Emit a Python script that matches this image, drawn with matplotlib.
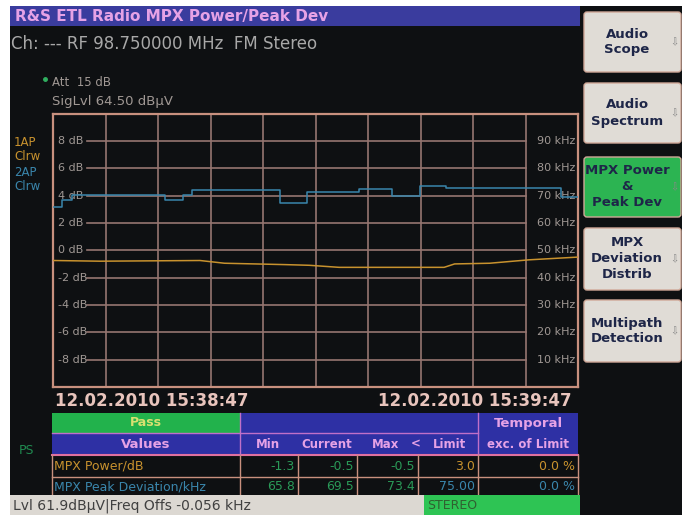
import matplotlib
matplotlib.use("Agg")
import matplotlib.pyplot as plt
from matplotlib.patches import Rectangle, FancyBboxPatch

plt.rcParams['font.family'] = ['DejaVu Sans']

power_t = [0, 5.4, 16.8, 19.6, 26.5, 29.3, 32.7, 44.7, 45.9, 49.9, 54.4, 60]
power_db = [-0.75, -0.8, -0.75, -0.95, -1.05, -1.1, -1.25, -1.25, -1.0, -0.95, -0.7, -0.5]

dev_t = [0, 1.0, 2.2, 12.8, 14.8, 15.9, 25.9, 29.0, 35.0, 38.7, 41.9, 44.9, 58.1, 60]
dev_khz = [65.8, 68.2, 70.2, 68.3, 70.2, 72.0, 67.3, 71.4, 72.5, 70.0, 73.4, 72.6, 69.5, 69.5]

db_ticks = [8, 6, 4, 2, 0, -2, -4, -6, -8]
khz_ticks = [90, 80, 70, 60, 50, 40, 30, 20, 10]

row_names = ["MPX Power/dB", "MPX Peak Deviation/kHz"]
mins = ["-1.3", "65.8"]
currents = ["-0.5", "69.5"]
maxs = ["-0.5", "73.4"]
limits = ["3.0", "75.00"]
temporal = ["0.0 %", "0.0 %"]

softkeys = ["Audio\nScope", "Audio\nSpectrum", "MPX Power\n&\nPeak Dev",
            "MPX\nDeviation\nDistrib", "Multipath\nDetection"]

# colours
BG = "#0e1012"
PINK = "#c8907e"
GRID = "#957670"
ORANGE = "#c8922e"
BLUE = "#3a86ac"
TBLUE = "#2e30a4"
GREEN = "#22b24c"
HEAD = "#e6a2e6"
VGREEN = "#2a9a58"
LBL = "#a09894"

W, H = 682, 515
fig = plt.figure(figsize=(W / 100, H / 100), dpi=100, facecolor="white")

# background axes in pixel coordinates
bg = fig.add_axes([0, 0, 1, 1])
bg.set_xlim(0, W)
bg.set_ylim(H, 0)
bg.axis('off')
bg.set_zorder(0)


def box(x0, y0, x1, y1, fc, ec="none", lw=0, z=1):
    bg.add_patch(Rectangle((x0, y0), x1 - x0, y1 - y0, facecolor=fc,
                           edgecolor=ec, linewidth=lw, zorder=z))


box(10, 6, W, H, BG)

# title bar
box(10, 6, 580, 26, "#3a3c9e", z=2)
bg.text(15, 16.5, "R&S ETL Radio MPX Power/Peak Dev", color=HEAD,
        fontsize=11, fontweight='bold', va='center', zorder=3)
bg.text(11, 44, "Ch: --- RF 98.750000 MHz  FM Stereo", color="#a8a8a8",
        fontsize=12, va='center', zorder=3)
bg.plot([45], [79], 'o', color="#30b060", ms=2.5, zorder=3)
bg.text(52, 83, "Att  15 dB", color=LBL, fontsize=8.5, va='center', zorder=3)
bg.text(52, 101, "SigLvl 64.50 dBµV", color=LBL, fontsize=9.5,
        va='center', zorder=3)

# trace labels on left
for lbl, yy, c in [("1AP", 143, ORANGE), ("Clrw", 157, ORANGE),
                   ("2AP", 172, BLUE), ("Clrw", 186, BLUE)]:
    bg.text(14, yy, lbl, color=c, fontsize=8.5, va='center', zorder=3)
bg.text(19, 450, "PS", color="#208a50", fontsize=9, va='center', zorder=3)

# dates
bg.text(55, 401, "12.02.2010 15:38:47", color="#e8c4bc", fontsize=12,
        fontweight='bold', va='center', zorder=3)
bg.text(572, 401, "12.02.2010 15:39:47", color="#e8c4bc", fontsize=12,
        fontweight='bold', va='center', ha='right', zorder=3)

# ---- table ----
col_x = [52, 240, 298, 357, 418, 478, 578]
box(52, 413, 240, 433, GREEN, z=2)
bg.text(146, 423, "Pass", color="#d8e070", fontsize=9, fontweight='bold',
        ha='center', va='center', zorder=3)
box(240, 413, 478, 454, TBLUE, z=2)
box(52, 433, 240, 454, TBLUE, z=2)
box(478, 413, 578, 454, TBLUE, z=2)
bg.plot([52, 478], [433, 433], color="#c070c8", lw=1, zorder=3)
bg.plot([52, 578], [454.5, 454.5], color="#e070a0", lw=1.5, zorder=3)
bg.plot([478, 478], [413, 454], color="#c070c8", lw=1, zorder=3)
bg.plot([240, 240], [413, 454], color="#c070c8", lw=1, zorder=3)
bg.text(146, 444, "Values", color=HEAD, fontsize=9.5, fontweight='bold',
        ha='center', va='center', zorder=3)
bg.text(528, 423, "Temporal", color=HEAD, fontsize=9.5, fontweight='bold',
        ha='center', va='center', zorder=3)
bg.text(528, 444, "exc. of Limit", color=HEAD, fontsize=8.5, fontweight='bold',
        ha='center', va='center', zorder=3)
for lbl, xx in [("Min", 268), ("Current", 327), ("Max", 386), ("<", 416), ("Limit", 450)]:
    bg.text(xx, 444, lbl, color=HEAD, fontsize=8.5, fontweight='bold',
            ha='center', va='center', zorder=3)

row_y = [466, 487]
row_col = [ORANGE, BLUE]
for i in range(2):
    yy = row_y[i]
    bg.text(54, yy, row_names[i], color=row_col[i], fontsize=9,
            va='center', zorder=3)
    vals = [mins[i], currents[i], maxs[i], limits[i], temporal[i]]
    cols = [VGREEN, VGREEN, VGREEN, row_col[i], row_col[i]]
    for j, v in enumerate(vals):
        bg.text(col_x[j + 2] - 3, yy, v, color=cols[j], fontsize=9,
                ha='right', va='center', zorder=3)
bg.plot([52, 578], [476.5, 476.5], color=PINK, lw=1, zorder=3)
for xx in col_x:
    bg.plot([xx, xx], [455, 495], color=PINK, lw=1, zorder=3)

# status bar
box(10, 495, 424, H, "#dcd8d2", z=4)
box(424, 495, 580, H, "#2ec454", z=4)
bg.text(13, 505.5, "Lvl 61.9dBµV|Freq Offs -0.056 kHz", color="#404040",
        fontsize=10, va='center', zorder=5)
bg.text(427, 505.5, "STEREO", color="#306030", fontsize=9, va='center', zorder=5)

# softkeys
sk_y = [(12, 72), (83, 143), (157, 217), (228, 290), (300, 362)]
for k, (lbl, (y0, y1)) in enumerate(zip(softkeys, sk_y)):
    fc = "#2cb452" if k == 2 else "#e0dcd6"
    bg.add_patch(FancyBboxPatch((584, y0), 97, y1 - y0,
                                boxstyle="round,pad=0,rounding_size=3",
                                facecolor=fc, edgecolor="#d0a898", lw=1, zorder=2))
    bg.text(627, (y0 + y1) / 2, lbl, color="#1e2648", fontsize=9.5,
            fontweight='bold', ha='center', va='center', linespacing=1.3, zorder=3)
    bg.text(674, (y0 + y1) / 2, "⇩", color="#888888", fontsize=7,
            ha='center', va='center', zorder=3)

# ---- data axes ----
ax = fig.add_axes([53 / W, 1 - 387 / H, 525 / W, 273.5 / H])
ax.set_zorder(2)
ax.set_facecolor(BG)
ax.set_xlim(0, 60)
ax.set_ylim(-10, 10)
for s in ax.spines.values():
    s.set_color(PINK)
    s.set_linewidth(1.6)
ax.set_xticks([])
ax.set_yticks([])
for xv in range(6, 60, 6):
    ax.axvline(xv, color=GRID, lw=1.2, zorder=1)
for yv in db_ticks:
    ax.plot([3.9, 54.1], [yv, yv], color=GRID, lw=1.2, zorder=1)
    ax.text(0.6, yv, "%d dB" % yv, color=LBL, fontsize=8,
            va='center', ha='left', zorder=2)
for yv, kv in zip(db_ticks, khz_ticks):
    ax.text(59.7, yv, "%d kHz" % kv, color=LBL, fontsize=8,
            va='center', ha='right', zorder=2)

ax.plot(power_t, power_db, color=ORANGE, lw=1.1, zorder=3)

ax2 = ax.twinx()
ax2.set_ylim(0, 100)
ax2.axis('off')
ax2.step(dev_t, dev_khz, where='post', color=BLUE, lw=1.1, zorder=3)

fig.savefig("out.png", dpi=100, facecolor=fig.get_facecolor())
